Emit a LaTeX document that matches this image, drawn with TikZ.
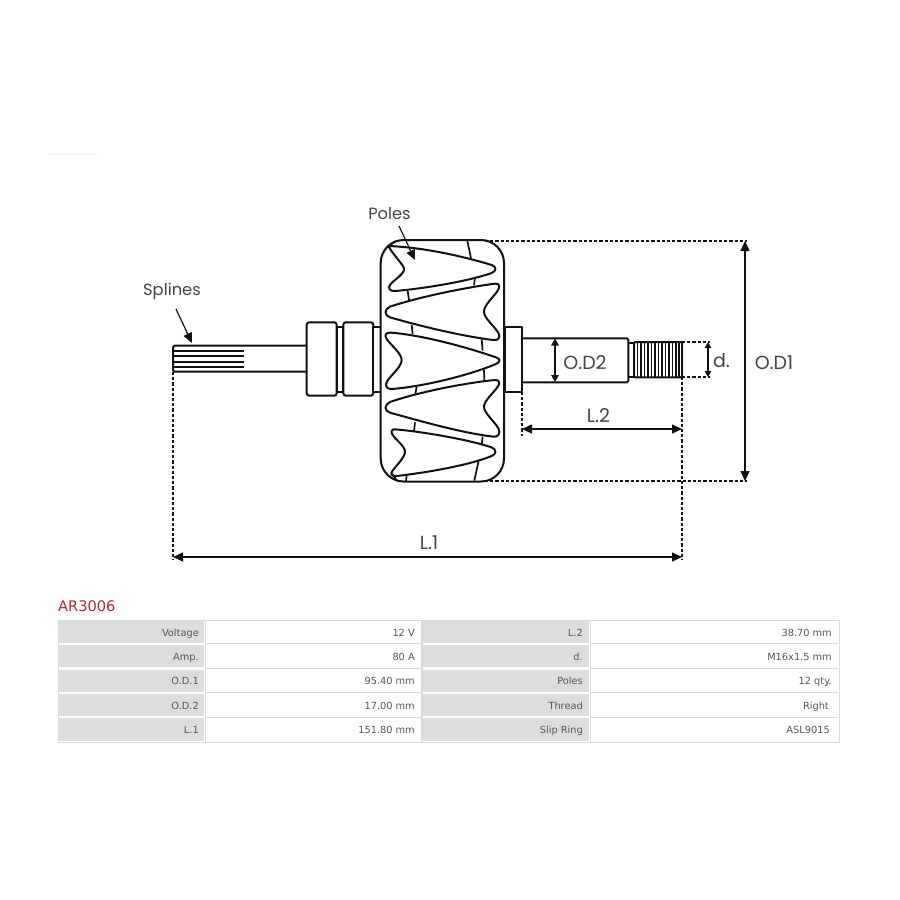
\documentclass[tikz,border=0pt]{standalone}
\usepackage{fontspec}
\setmainfont{DejaVu Sans}
\newfontfamily\geo{Poppins}
\usetikzlibrary{arrows.meta,calc}
\definecolor{lblbg}{HTML}{DDDDDD}
\definecolor{bord}{HTML}{DADADA}
\definecolor{txt}{HTML}{555555}
\definecolor{ink}{HTML}{111111}
\definecolor{dimtxt}{HTML}{444444}
\definecolor{titlered}{HTML}{A8283C}
\tikzset{
 part/.style={draw=ink,line width=2pt,line join=round,fill=white},
 pole/.style={draw=ink,line width=2pt,line join=round},
 bar/.style={draw=ink,line width=1.7pt},
 thin part/.style={draw=ink,line width=1.2pt},
 dots/.style={draw=ink,line width=1.7pt,dash pattern=on 3.2pt off 2pt},
 dimline/.style={draw=ink,line width=1.4pt,{Triangle[length=10pt,width=9pt]}-{Triangle[length=10pt,width=9pt]}},
 pointer/.style={draw=ink,line width=1.2pt,-{Triangle[length=10pt,width=9pt]}},
 dimlabel/.style={font=\geo\fontsize{19}{19}\selectfont,text=dimtxt,inner sep=0pt},
 namelabel/.style={font=\geo\fontsize{16.3}{17}\selectfont,text=dimtxt,inner sep=0pt},
 cell/.style={font=\fontsize{9.8}{12}\selectfont,text=txt,inner sep=0pt,anchor=base east},
 frame/.style={draw=bord,line width=.9pt,fill=white},
}
\begin{document}
\begin{tikzpicture}[x=1pt,y=-1pt]
\useasboundingbox (0,0) rectangle (900,900);
\fill[white] (0,0) rectangle (900,900);
\draw[black!7,line width=.7pt] (50,154.5) -- (97,154.5);

% ---- named points for dimensions
\coordinate (spl) at (173,372);
\coordinate (thrT) at (682,342);
\coordinate (thrB) at (682,377);
\coordinate (dT) at (708,342);
\coordinate (dB) at (708,377);
\coordinate (odT) at (745,241);
\coordinate (odB) at (745,481);
\coordinate (rotT) at (485,241);
\coordinate (rotB) at (485,481);
\coordinate (fl) at (522,392);
\coordinate (l2a) at (522,429);
\coordinate (l2b) at (682,429);
\coordinate (l1a) at (173,557);
\coordinate (l1b) at (682,557);
\coordinate (od2a) at (555,338.5);
\coordinate (od2b) at (555,382);

% ---- left shaft
\draw[part,rounded corners=1.5pt] (306,345.7) -- (173,345.7) -- (173,371.7) -- (306,371.7);
\foreach \yy in {350.7,356.2,361.7,367.2}
  \draw[bar] (174,\yy) -- (244,\yy);
\draw[part] (337,327.3) rectangle (343,392.3);
\draw[part,rounded corners=2.5pt] (306.7,322.3) rectangle (336.7,395.7);
\draw[part,rounded corners=2.5pt] (343.3,322.3) rectangle (373.3,395.7);
\draw[part] (373.3,327.3) rectangle (381,392.3);

% ---- right shaft
\draw[part] (628.3,343.3) rectangle (634,376.7);
\draw[part,rounded corners=1.5pt] (521.7,338.3) -- (628.3,338.3) -- (628.3,382.3) -- (521.7,382.3);
\draw[part] (505,327.3) rectangle (521.7,392.3);
\draw[part,rounded corners=1pt] (634,342) rectangle (682,377.3);
\foreach \xx in {637.5,641,644.5,648,651.5,655,658.5,662,665.5,669,672.5,676,679}
  \draw[thin part] (\xx,342) -- (\xx,377.3);

% ---- rotor body
\draw[part,rounded corners=23pt] (380.7,240) rectangle (504,481.5);

\begin{scope}[xshift=360pt,yshift=-190pt,x=.33333pt,y=-.33333pt]
 % connecting bars
 \draw[bar] (322,152) -- (333,205);
 \draw[bar] (345,262) -- (342,286);
 \draw[bar] (143,303) -- (147,330);
 \draw[bar] (155,405) -- (158,432);
 \draw[bar] (365,448) -- (368,482);
 \draw[bar] (372,540) -- (373,572);
 \draw[bar] (170,590) -- (166,612);
 \draw[bar] (165,697) -- (162,725);
 \draw[bar] (368,740) -- (365,765);
 \draw[bar] (356,812) -- (343,872);
 \draw[bar] (140,856) -- (138,873);
 \draw[bar] (85,168) -- (108,153);
 \draw[bar] (95,850) -- (112,873);
 % pole 1
 \draw[pole] (85,168) .. controls (200,172) and (330,205) .. (395,225)
   .. controls (410,230) and (410,243) .. (395,249)
   .. controls (330,272) and (200,295) .. (105,303)
   .. controls (88,305) and (82,292) .. (92,282)
   .. controls (105,268) and (135,250) .. (132,235)
   .. controls (128,222) and (100,195) .. (85,168) -- cycle;
 % pole 2
 \draw[pole] (90,350) .. controls (180,320) and (320,292) .. (405,281)
   .. controls (420,279) and (420,292) .. (413,302)
   .. controls (400,322) and (372,345) .. (372,365)
   .. controls (372,385) and (405,410) .. (416,430)
   .. controls (422,442) and (415,452) .. (400,450)
   .. controls (300,438) and (170,405) .. (90,382)
   .. controls (72,376) and (72,358) .. (90,350) -- cycle;
 % pole 3
 \draw[pole] (92,428) .. controls (190,435) and (330,475) .. (408,502)
   .. controls (422,507) and (422,515) .. (408,522)
   .. controls (330,555) and (190,590) .. (95,597)
   .. controls (78,598) and (74,585) .. (82,573)
   .. controls (95,553) and (125,530) .. (125,510)
   .. controls (125,490) and (92,465) .. (80,447)
   .. controls (72,435) and (78,427) .. (92,428) -- cycle;
 % pole 4
 \draw[pole] (90,636) .. controls (180,605) and (320,578) .. (405,570)
   .. controls (420,569) and (420,580) .. (413,590)
   .. controls (400,610) and (372,632) .. (372,650)
   .. controls (372,670) and (405,695) .. (416,717)
   .. controls (422,730) and (415,742) .. (400,740)
   .. controls (300,728) and (170,690) .. (90,668)
   .. controls (72,662) and (72,645) .. (90,636) -- cycle;
 % pole 5
 \draw[pole] (105,718) .. controls (190,725) and (330,750) .. (395,772)
   .. controls (410,778) and (410,792) .. (395,798)
   .. controls (330,825) and (200,848) .. (110,858)
   .. controls (95,860) and (90,852) .. (97,843)
   .. controls (110,825) and (135,802) .. (135,785)
   .. controls (135,768) and (105,748) .. (97,733)
   .. controls (92,724) and (95,718) .. (105,718) -- cycle;
\end{scope}

% ---- dimension helpers
\draw[dots] (spl) -- (173,560);
\draw[dots] (thrB) -- (682,560);
\draw[dots] (fl) -- (522,436);
\draw[dots] (thrT) -- (710,342);
\draw[dots] (thrB) -- (710,377);
\draw[dots] (rotT) -- (747,241);
\draw[dots] (rotB) -- (747,481);

\draw[dimline] (l1a) -- (l1b);
\draw[dimline] (l2a) -- (l2b);
\draw[dimline] (odT) -- (odB);
\draw[dimline,{Triangle[length=6pt,width=6.5pt]}-{Triangle[length=6pt,width=6.5pt]}] (dT) -- (dB);
\draw[dimline,{Triangle[length=7pt,width=7.5pt]}-{Triangle[length=7pt,width=7.5pt]}] (od2a) -- (od2b);

% ---- labels
\node[namelabel] (lpoles) at (389.5,214) {Poles};
\node[namelabel] (lspl) at (172,291.5) {Splines};
\node[dimlabel] (ll1) at (429,543) {L.1};
\node[dimlabel] (ll2) at (598.5,416) {L.2};
\node[dimlabel] (lod2) at (585,363) {O.D2};
\node[dimlabel] (lod1) at (774,363) {O.D1};
\node[dimlabel] (ld) at (721.5,361) {d.};
\coordinate (pa) at (399,226);
\coordinate (pb) at (415,260);
\coordinate (sa) at (176,309);
\coordinate (sb) at (192,343);
\draw[pointer] (pa) -- (pb);
\draw[pointer] (sa) -- (sb);

% ---- table
\node[font=\fontsize{14.6}{16}\selectfont,text=titlered,inner sep=0pt,anchor=west] (title) at (58,606.5) {AR3006};
\draw[frame] (58,620) rectangle (839,742);
\foreach \ya/\yb in {620.7/642.7,645/667.3,669.5/691.7,694/716,718.3/740.7}{
  \fill[lblbg] (59,\ya) rectangle (203.5,\yb);
  \fill[lblbg] (423,\ya) rectangle (588.5,\yb);
}
\foreach \yb in {643.8,668.4,692.8,717.1}{
  \draw[bord,line width=.9pt] (205,\yb) -- (421.5,\yb);
  \draw[bord,line width=.9pt] (590,\yb) -- (838,\yb);
}
\draw[bord,line width=.9pt] (205,620) -- (205,742);
\draw[bord,line width=1.6pt] (422,620) -- (422,742);
\draw[bord,line width=.9pt] (590,620) -- (590,742);

\node[cell] (a1) at (199,636) {Voltage};
\node[cell] (b1) at (415,636) {12 V};
\node[cell] (c1) at (583,636) {L.2};
\node[cell] (d1) at (832,636) {38.70 mm};
\node[cell] (a2) at (199,660.3) {Amp.};
\node[cell] (b2) at (415,660.3) {80 A};
\node[cell] (c2) at (583,660.3) {d.};
\node[cell] (d2) at (832,660.3) {M16x1.5 mm};
\node[cell] (a3) at (199,684.6) {O.D.1};
\node[cell] (b3) at (415,684.6) {95.40 mm};
\node[cell] (c3) at (583,684.6) {Poles};
\node[cell] (d3) at (832,684.6) {12 qty.};
\node[cell] (a4) at (199,709) {O.D.2};
\node[cell] (b4) at (415,709) {17.00 mm};
\node[cell] (c4) at (583,709) {Thread};
\node[cell] (d4) at (829,709) {Right};
\node[cell] (a5) at (199,733.3) {L.1};
\node[cell] (b5) at (415,733.3) {151.80 mm};
\node[cell] (c5) at (583,733.3) {Slip Ring};
\node[cell] (d5) at (830,733.3) {ASL9015};
\end{tikzpicture}
\end{document}
